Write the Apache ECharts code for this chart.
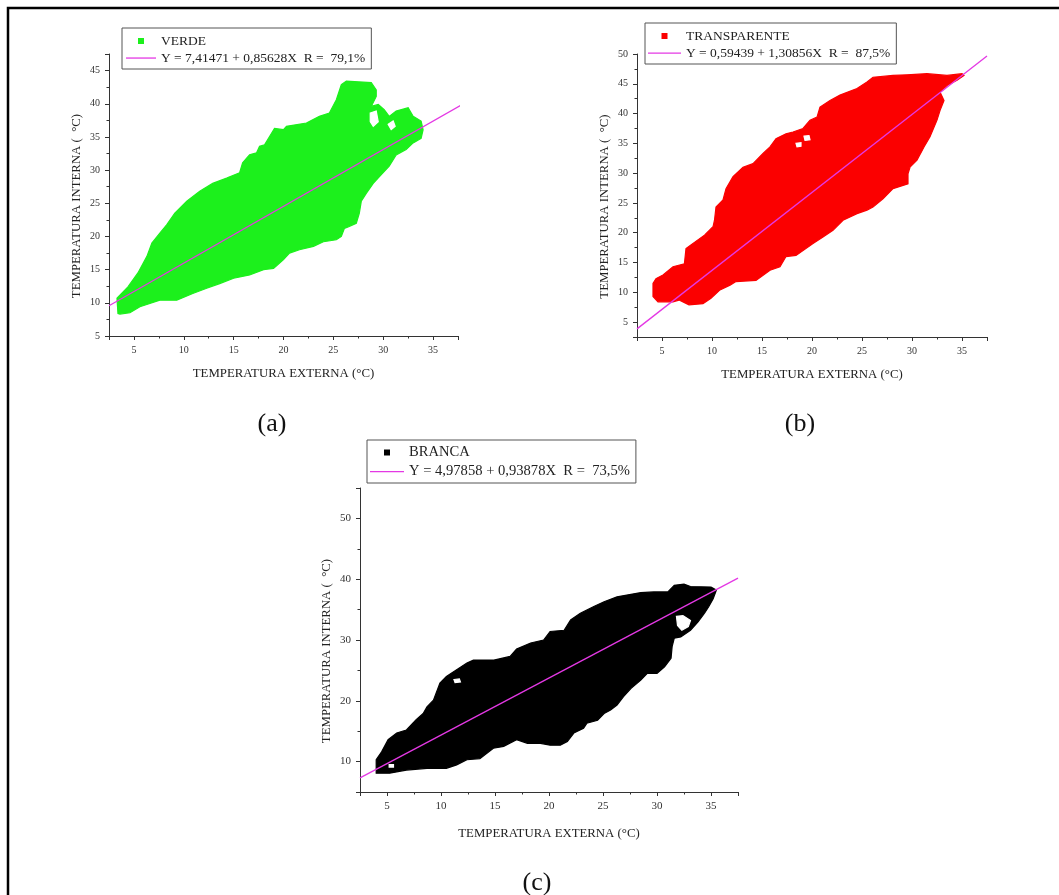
<!DOCTYPE html>
<html>
<head>
<meta charset="utf-8">
<script src="https://cdn.jsdelivr.net/npm/echarts@6/dist/echarts.min.js"></script>
<style>
  html, body { margin: 0; padding: 0; background: #fff; }
  #chart { width: 1059px; height: 895px; }
</style>
</head>
<body>
<div id="chart"></div>
<script>
// Panels: internal vs external temperature for three cover colours
const panelLetters = ['(a)', '(b)', '(c)'];
const coverNames = ['VERDE', 'TRANSPARENTE', 'BRANCA'];
const coverColors = ['#1cf01c', '#fb0000', '#000000'];

// Linear fits: Y = a + bX, R in percent
const fitIntercept = [7.41471, 0.59439, 4.97858];
const fitSlope = [0.85628, 1.30856, 0.93878];
const fitR = [79.1, 87.5, 73.5];
const fitXStart = [2.5, 2.5, 2.5];
const fitXEnd = [38.3, 37.5, 37.5];

// Axis extents and label steps
const xExtent = [2.5, 37.5];
const xStep = 5;
const yExtents = [[5, 47.5], [2.5, 50], [5, 55]];
const ySteps = [5, 5, 10];

// Outlines of the measurement clouds (external °C, internal °C)
const verdeOutline = [
  [3.3, 10.7], [4.4, 12.4], [5.4, 14.5], [6.3, 17.0], [6.8, 19.0], [7.6, 20.5], [8.3, 21.8],
  [9.1, 23.5], [10.3, 25.3], [11.6, 26.8], [12.9, 28.0], [14.3, 28.8], [15.6, 29.6],
  [15.9, 31.1], [16.6, 32.3], [17.3, 32.6], [17.6, 33.6], [18.1, 33.8], [19.1, 36.3],
  [20.0, 36.1], [20.3, 36.6], [22.3, 37.1], [23.6, 38.1], [24.6, 38.6], [25.3, 40.6],
  [25.8, 42.9], [26.3, 43.4], [28.8, 43.2], [29.3, 42.1], [29.3, 41.1], [28.8, 39.6],
  [29.5, 39.9], [30.1, 39.1], [30.6, 38.1], [31.3, 38.9], [32.5, 39.4], [33.0, 38.1],
  [33.8, 37.4], [34.0, 36.1], [33.8, 34.8], [33.0, 34.1], [32.3, 33.1], [31.3, 32.3],
  [30.6, 30.6], [29.6, 29.0], [29.0, 28.0], [28.3, 26.5], [27.8, 25.3], [27.6, 23.5],
  [27.3, 22.0], [26.6, 21.5], [26.1, 21.2], [25.8, 20.0], [25.3, 19.5], [24.0, 19.2],
  [23.0, 18.5], [21.6, 18.0], [20.6, 17.5], [20.0, 16.5], [19.0, 15.2], [18.0, 15.0],
  [16.6, 14.2], [15.0, 13.7], [13.6, 12.9], [12.3, 12.2], [10.9, 11.4], [9.3, 10.4],
  [7.6, 10.4], [6.6, 9.9], [5.6, 9.4], [4.6, 8.5], [3.6, 8.3], [3.4, 8.4]
];
const verdeGaps = [
  [[28.7, 38.6], [29.3, 38.9], [29.5, 37.3], [29.0, 36.6], [28.7, 37.3]],
  [[30.5, 36.9], [31.0, 37.4], [31.2, 36.6], [30.8, 36.1]]
];

const transparenteOutline = [
  [4.1, 10.9], [4.1, 9.3], [4.6, 8.4], [6.1, 8.4], [6.7, 8.7], [7.1, 8.4], [7.7, 7.9],
  [9.1, 8.1], [9.9, 9.0], [10.8, 10.4], [11.8, 11.2], [12.4, 11.8], [14.4, 12.0],
  [15.8, 13.7], [16.8, 14.3], [17.4, 16.0], [18.4, 16.2], [20.1, 18.2], [21.1, 19.3],
  [22.1, 20.4], [23.1, 22.1], [24.5, 23.2], [25.5, 23.8], [26.1, 24.3], [27.1, 25.7],
  [28.1, 27.4], [29.6, 28.2], [29.6, 29.9], [29.8, 31.0], [30.5, 32.2], [31.2, 34.4],
  [31.8, 36.1], [32.5, 38.9], [32.8, 40.5], [33.2, 42.2], [32.8, 43.6], [33.5, 44.7],
  [34.5, 45.6], [35.2, 46.4], [35.0, 46.7], [33.5, 46.4], [31.5, 46.7], [29.5, 46.5],
  [28.1, 46.4], [26.1, 46.1], [25.5, 45.3], [24.5, 44.2], [22.8, 43.1], [21.8, 42.2],
  [20.8, 41.1], [20.5, 39.4], [19.8, 38.9], [19.1, 37.5], [18.1, 36.9], [17.4, 36.6],
  [16.4, 35.8], [15.8, 34.4], [15.1, 33.3], [14.1, 31.6], [13.1, 31.0], [12.1, 29.4],
  [11.4, 27.4], [11.1, 25.5], [10.4, 24.3], [10.25, 22.1], [10.1, 21.0], [9.25, 19.6],
  [8.1, 18.2], [7.4, 17.35], [7.24, 14.8], [6.1, 14.3], [5.1, 12.9], [4.4, 12.3], [4.1, 11.5]
];
const transparenteGaps = [
  [[19.2, 36.2], [19.7, 36.3], [19.8, 35.6], [19.3, 35.5]],
  [[18.4, 35.0], [18.9, 35.1], [18.9, 34.5], [18.5, 34.4]]
];

const brancaOutline = [
  [4.0, 8.1], [4.0, 10.3], [4.5, 11.6], [5.1, 13.6], [5.9, 14.7], [6.8, 15.2], [7.7, 16.9],
  [8.35, 17.9], [8.7, 19.0], [9.3, 20.1], [9.9, 22.9], [10.5, 24.0], [11.45, 25.1],
  [12.4, 26.2], [13.0, 26.7], [14.9, 26.7], [16.4, 27.3], [17.0, 28.5], [18.3, 29.5],
  [19.5, 30.0], [20.1, 31.4], [21.4, 31.6], [22.0, 33.3], [22.9, 34.4], [24.15, 35.5],
  [25.1, 36.3], [26.3, 37.1], [28.5, 37.8], [29.7, 37.9], [31.0, 37.9], [31.6, 39.0],
  [32.5, 39.2], [33.1, 38.8], [35.0, 38.7], [35.5, 38.2], [35.2, 36.8], [34.8, 35.5],
  [34.4, 34.4], [33.8, 33.0], [33.1, 31.6], [32.2, 30.5], [31.6, 30.3], [31.4, 28.9],
  [31.3, 27.0], [30.7, 25.6], [30.0, 24.5], [29.1, 24.5], [28.5, 23.4], [27.6, 22.05],
  [26.9, 20.7], [26.3, 19.3], [25.7, 18.5], [25.1, 17.9], [24.5, 16.8], [23.5, 16.3],
  [23.2, 15.5], [22.3, 14.7], [21.7, 13.3], [21.05, 12.7], [20.1, 12.7], [19.2, 13.0],
  [18.0, 13.0], [17.0, 13.6], [15.8, 12.5], [14.85, 12.2], [13.6, 10.5], [12.4, 10.3],
  [11.45, 9.45], [10.5, 8.9], [8.7, 8.9], [6.8, 8.6], [5.25, 8.1]
];
const brancaGaps = [
  [[31.8, 33.9], [32.4, 34.0], [33.1, 33.2], [32.9, 32.2], [32.3, 31.6], [31.9, 32.4]],
  [[11.2, 23.5], [11.7, 23.6], [11.8, 23.1], [11.3, 23.0]],
  [[5.2, 9.5], [5.6, 9.5], [5.6, 9.1], [5.2, 9.1]]
];

const cloudOutlines = [verdeOutline, transparenteOutline, brancaOutline];
const cloudGaps = [verdeGaps, transparenteGaps, brancaGaps];

const FONT = 'Liberation Serif';
const decimalComma = v => String(v).replace('.', ',');
const fitNames = fitIntercept.map((a, i) =>
  'Y = ' + decimalComma(a) + ' + ' + decimalComma(fitSlope[i]) + 'X  R =  ' + decimalComma(fitR[i]) + '%');

// Legend icons padded with move-to points so the square and the stroke keep their proportions
const squareIcon = w => 'path://M0,0M' + w + ',8M' + (w / 2 - 3) + ',1h6v6h-6z';
const strokeIcon = w => 'path://M0,0M' + w + ',8M0,3.4h' + w + 'v1.3h-' + w + 'z';

// Layout of each panel
const grids = [
  { left: 109, top: 54, width: 349, height: 282 },
  { left: 637, top: 54, width: 350, height: 283 },
  { left: 360, top: 488, width: 378, height: 304 }
];
const legendBoxes = [
  { left: 122, top: 28, iconW: 30, fontSize: 13.5, itemGap: 3, padding: [6, 6, 4, 4] },
  { left: 645, top: 23, iconW: 33, fontSize: 13.5, itemGap: 3, padding: [6, 6, 4, 3] },
  { left: 367, top: 440, iconW: 34, fontSize: 14.6, itemGap: 4, padding: [5, 6, 4, 3] }
];
const tickFont = [10, 10, 11];
const xNameGap = [31, 31, 35];
const yNameGap = [26, 26, 27];

const axisCommon = {
  axisLine: { show: true, lineStyle: { color: '#333', width: 1 } },
  axisTick: { show: true, inside: false, length: 4, lineStyle: { color: '#333' } },
  minorTick: { show: true, splitNumber: 2, length: 2.5, lineStyle: { color: '#333' } },
  splitLine: { show: false },
  nameLocation: 'middle'
};

const xAxes = grids.map((g, i) => Object.assign({}, axisCommon, {
  type: 'value', gridIndex: i,
  min: xExtent[0], max: xExtent[1],
  splitNumber: 7, minInterval: xStep, maxInterval: xStep,
  axisLabel: { color: '#333', fontFamily: FONT, fontSize: tickFont[i], margin: 9,
    showMinLabel: false, showMaxLabel: false },
  name: 'TEMPERATURA EXTERNA (°C)', nameGap: xNameGap[i],
  nameTextStyle: { color: '#222', fontFamily: FONT, fontSize: 12.8 }
}));

const yAxes = grids.map((g, i) => {
  const ext = yExtents[i];
  const step = ySteps[i];
  return Object.assign({}, axisCommon, {
    type: 'value', gridIndex: i,
    min: ext[0], max: ext[1],
    splitNumber: Math.round((ext[1] - ext[0]) / step),
    minInterval: step, maxInterval: step,
    axisLabel: { color: '#333', fontFamily: FONT, fontSize: tickFont[i], margin: 9,
      showMinLabel: ext[0] % step === 0, showMaxLabel: ext[1] % step === 0 },
    name: 'TEMPERATURA INTERNA (  °C)', nameGap: yNameGap[i],
    nameTextStyle: { color: '#222', fontFamily: FONT, fontSize: 12.8, padding: [0, 22, 0, 0] }
  });
});

const series = [];
cloudOutlines.forEach((outline, i) => {
  const shapes = [{ pts: outline, gap: false }].concat(cloudGaps[i].map(p => ({ pts: p, gap: true })));
  series.push({
    type: 'custom', name: coverNames[i], xAxisIndex: i, yAxisIndex: i,
    coordinateSystem: 'cartesian2d', silent: true, animation: false,
    itemStyle: { color: coverColors[i] },
    data: shapes.map((s, k) => [s.pts[0][0], s.pts[0][1], k]),
    renderItem: (params, api) => {
      const s = shapes[params.dataIndex];
      const col = s.gap ? '#ffffff' : coverColors[i];
      return {
        type: 'polygon',
        shape: { points: s.pts.map(p => api.coord(p)) },
        style: { fill: col, stroke: col, lineWidth: 1.2, lineJoin: 'miter' }
      };
    }
  });
});
fitIntercept.forEach((a, i) => {
  const b = fitSlope[i];
  series.push({
    type: 'line', name: fitNames[i], xAxisIndex: i, yAxisIndex: i,
    data: [[fitXStart[i], a + b * fitXStart[i]], [fitXEnd[i], a + b * fitXEnd[i]]],
    symbol: 'none', showSymbol: false, clip: false, silent: true, animation: false, z: 5,
    lineStyle: { color: '#e438e4', width: 1.3 },
    itemStyle: { color: '#e438e4' }
  });
});

const legends = legendBoxes.map((lb, i) => ({
  orient: 'vertical', left: lb.left, top: lb.top,
  padding: lb.padding, itemGap: lb.itemGap,
  itemWidth: lb.iconW, itemHeight: 8,
  borderColor: '#555', borderWidth: 1, borderRadius: 0,
  selectedMode: false,
  textStyle: { color: '#222', fontFamily: FONT, fontSize: lb.fontSize },
  data: [
    { name: coverNames[i], icon: squareIcon(lb.iconW) },
    { name: fitNames[i], icon: strokeIcon(lb.iconW), itemStyle: { color: '#e438e4' } }
  ]
}));

const letterPos = [[272, 424], [800, 424], [537, 883]];

const option = {
  backgroundColor: '#ffffff',
  animation: false,
  grid: grids,
  xAxis: xAxes,
  yAxis: yAxes,
  legend: legends,
  series: series,
  graphic: [
    { type: 'rect', silent: true,
      shape: { x: 8, y: 8, width: 1070, height: 900 },
      style: { fill: 'none', stroke: '#000', lineWidth: 2.5 } }
  ].concat(panelLetters.map((t, i) => ({
    type: 'text', x: letterPos[i][0], y: letterPos[i][1], silent: true,
    style: { text: t, fill: '#111', font: '26px "Liberation Serif"', align: 'center', verticalAlign: 'middle' }
  })))
};

const chart = echarts.init(document.getElementById('chart'), null, { renderer: 'canvas' });
chart.setOption(option);
</script>
</body>
</html>
